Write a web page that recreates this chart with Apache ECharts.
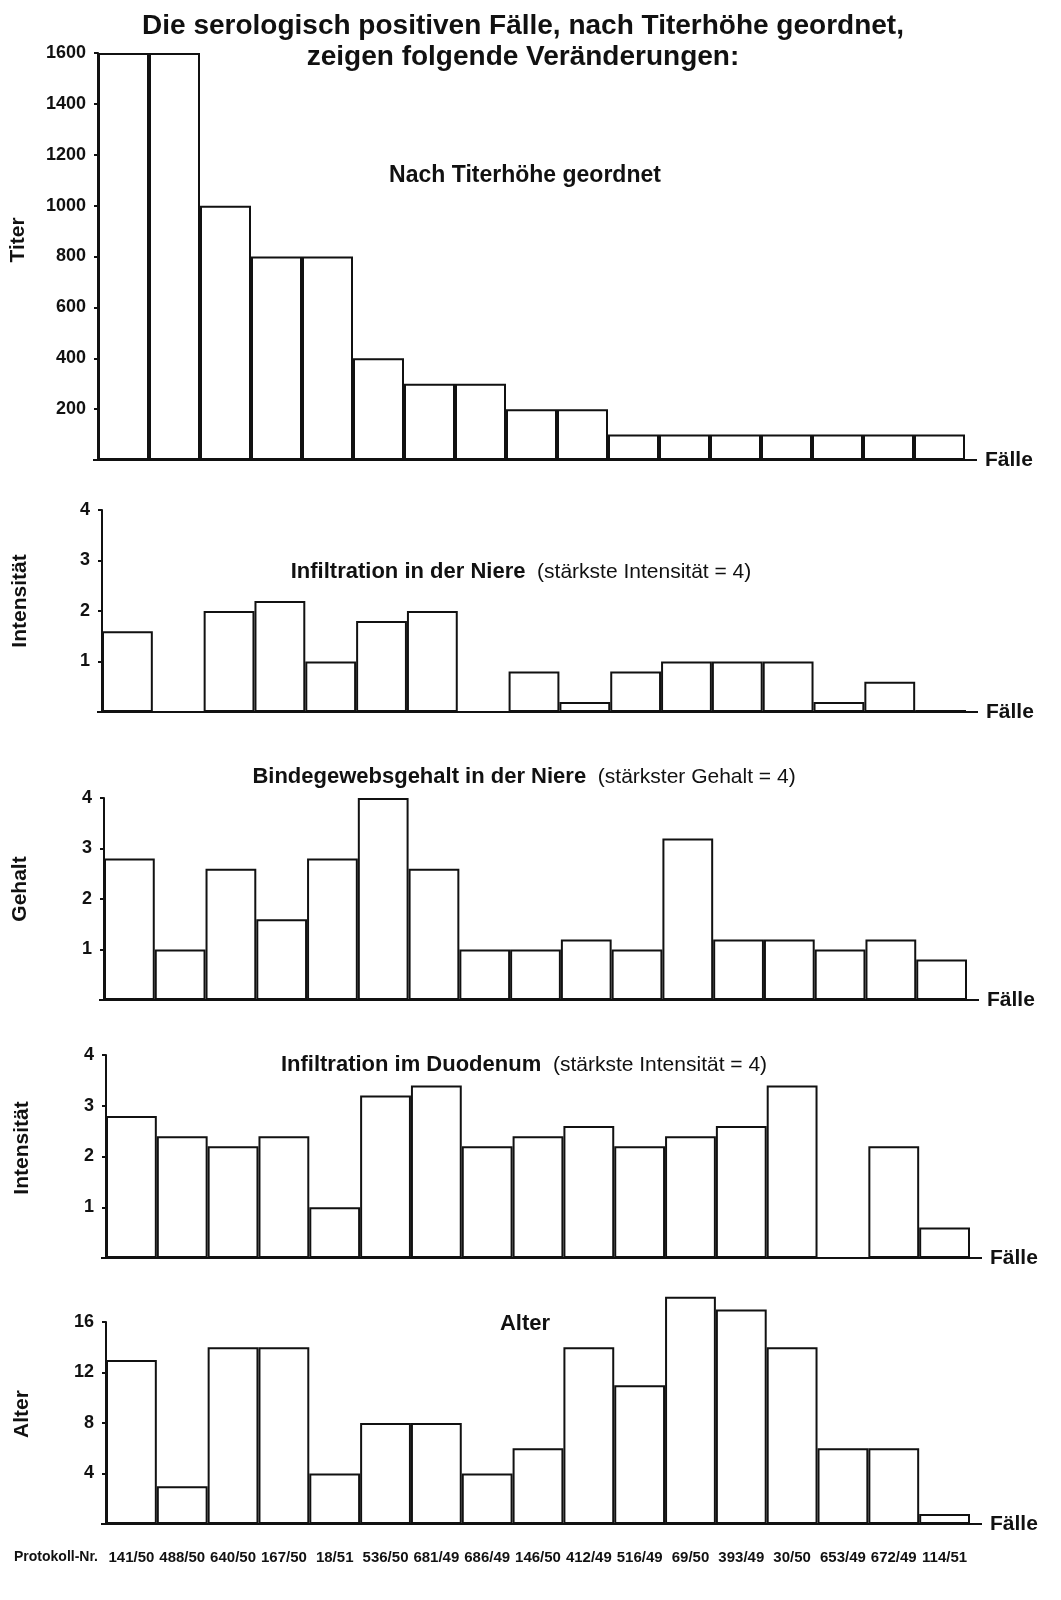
<!DOCTYPE html>
<html><head><meta charset="utf-8">
<script src="https://cdn.jsdelivr.net/npm/echarts@6/dist/echarts.min.js"></script>
<style>html,body{margin:0;padding:0;background:#fff}#c{width:1061px;height:1600px}</style>
</head><body><div id="c"></div>
<script>
const categories = ['141/50','488/50','640/50','167/50','18/51','536/50','681/49','686/49','146/50','412/49','516/49','69/50','393/49','30/50','653/49','672/49','114/51'];
const titer = [1600,1600,1000,800,800,400,300,300,200,200,100,100,100,100,100,100,100];
const infiltrationNiere = [1.6,0,2.0,2.2,1.0,1.8,2.0,0,0.8,0.2,0.8,1.0,1.0,1.0,0.2,0.6,0.04];
const bindegewebsgehalt = [2.8,1.0,2.6,1.6,2.8,4.0,2.6,1.0,1.0,1.2,1.0,3.2,1.2,1.2,1.0,1.2,0.8];
const infiltrationDuodenum = [2.8,2.4,2.2,2.4,1.0,3.2,3.4,2.2,2.4,2.6,2.2,2.4,2.6,3.4,0,2.2,0.6];
const alter = [13,3,14,14,4,8,8,4,6,14,11,18,17,14,6,6,0.8];

const panels = [
  {data: titer, name: 'Titer', max: 1600, interval: 200, left: 98, top: 53, width: 867, height: 407, nx: 18, ny: 240},
  {data: infiltrationNiere, name: 'Intensität', max: 4, interval: 1, left: 102, top: 510, width: 864, height: 202, nx: 20, ny: 601},
  {data: bindegewebsgehalt, name: 'Gehalt', max: 4, interval: 1, left: 104, top: 798, width: 863, height: 202, nx: 20, ny: 889},
  {data: infiltrationDuodenum, name: 'Intensität', max: 4, interval: 1, left: 106, top: 1055, width: 864, height: 203, nx: 22, ny: 1148},
  {data: alter, name: 'Alter', max: 16, interval: 4, left: 106, top: 1322, width: 864, height: 202, nx: 22, ny: 1414}
];
const FONT = "'Liberation Sans', Arial, sans-serif";
const INK = '#111';

const grids = [], xAxes = [], yAxes = [], series = [], graphic = [];
panels.forEach((p, i) => {
  grids.push({left: p.left, top: p.top, width: p.width, height: p.height, containLabel: false});
  const last = i === panels.length - 1;
  xAxes.push({
    type: 'category', gridIndex: i, data: categories,
    axisLine: {show: true, lineStyle: {color: INK, width: 2}},
    axisTick: {show: false},
    axisLabel: {show: last, margin: 26, fontFamily: FONT, fontWeight: 'bold', fontSize: 15, color: INK, interval: 0},
    name: 'Fälle', nameLocation: 'end', nameGap: 20,
    nameTextStyle: {fontFamily: FONT, fontWeight: 'bold', fontSize: 21, color: INK, verticalAlign: 'middle', padding: [4,0,0,0]}
  });
  yAxes.push({
    type: 'value', gridIndex: i, min: 0, max: p.max, interval: p.interval,
    splitLine: {show: false},
    axisLine: {show: true, lineStyle: {color: INK, width: 2}},
    axisTick: {show: true, length: 4, lineStyle: {color: INK, width: 2}},
    axisLabel: {margin: 12, fontFamily: FONT, fontWeight: 'bold', fontSize: 18, color: INK,
      formatter: v => v === 0 ? '' : String(v)}
  });
  series.push({
    type: 'bar', xAxisIndex: i, yAxisIndex: i, data: p.data,
    barCategoryGap: '0%', clip: false, silent: true,
    itemStyle: {color: '#fff', borderColor: INK, borderWidth: 2}
  });
  const base = p.top + p.height;
  graphic.push({type: 'line', shape: {x1: p.left - 5, y1: base, x2: p.left + p.width + 12, y2: base},
    style: {stroke: INK, lineWidth: 2}});
  graphic.push({type: 'text', x: p.nx, y: p.ny, rotation: Math.PI / 2,
    style: {text: p.name, font: "bold 21px " + FONT, fill: INK, textAlign: 'center', textVerticalAlign: 'middle'}});
});

graphic.push({type: 'text', left: 14, top: 1550,
  style: {text: 'Protokoll-Nr.', font: "bold 14px " + FONT, fill: INK}});

const rich = {b: {fontFamily: FONT, fontWeight: 'bold', fontSize: 22, color: INK},
              n: {fontFamily: FONT, fontWeight: 'normal', fontSize: 21, color: INK}};
const option = {
  animation: false,
  backgroundColor: '#fff',
  title: [
    {text: 'Die serologisch positiven Fälle, nach Titerhöhe geordnet,\nzeigen folgende Veränderungen:',
     left: 518, textAlign: 'center', top: 6,
     textStyle: {fontFamily: FONT, fontWeight: 'bold', fontSize: 28, color: INK, lineHeight: 31}},
    {text: 'Nach Titerhöhe geordnet', left: 520, textAlign: 'center', top: 159,
     textStyle: {fontFamily: FONT, fontWeight: 'bold', fontSize: 23, color: INK}},
    {text: '{b|Infiltration in der Niere}{n|  (stärkste Intensität = 4)}', left: 516, textAlign: 'center', top: 556, textStyle: {rich, fontWeight: 'normal'}},
    {text: '{b|Bindegewebsgehalt in der Niere}{n|  (stärkster Gehalt = 4)}', left: 519, textAlign: 'center', top: 761, textStyle: {rich, fontWeight: 'normal'}},
    {text: '{b|Infiltration im Duodenum}{n|  (stärkste Intensität = 4)}', left: 519, textAlign: 'center', top: 1049, textStyle: {rich, fontWeight: 'normal'}},
    {text: 'Alter', left: 520, textAlign: 'center', top: 1308,
     textStyle: {fontFamily: FONT, fontWeight: 'bold', fontSize: 22, color: INK}}
  ],
  grid: grids, xAxis: xAxes, yAxis: yAxes, series, graphic
};
const chart = echarts.init(document.getElementById('c'), null, {renderer: 'canvas'});
chart.setOption(option);
</script></body></html>
